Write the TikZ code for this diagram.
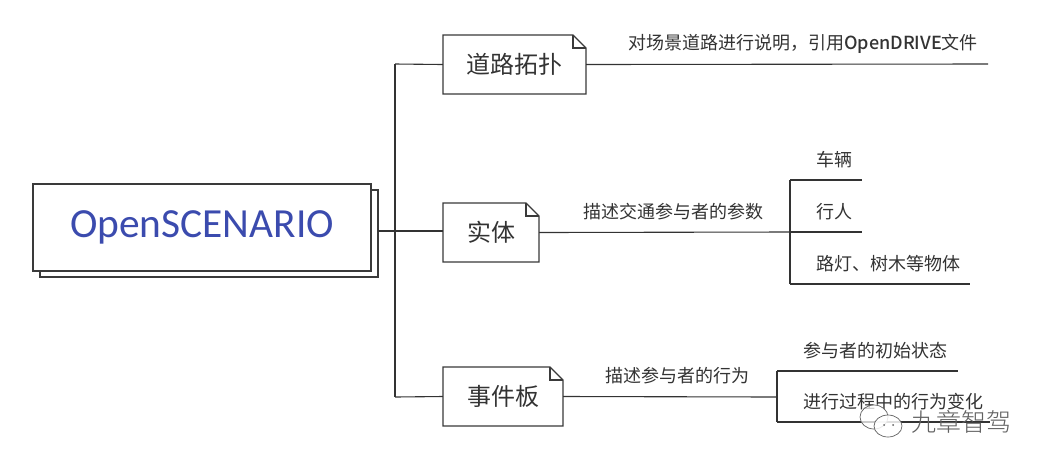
\documentclass[tikz,border=0pt]{standalone}
\usepackage{fontspec}
\setmainfont{Noto Sans CJK SC}
\newfontfamily\latinf{Carlito}
\newfontfamily\lightcjk{Noto Sans CJK SC Light}
\newfontfamily\medcjk{Noto Sans CJK SC Medium}
\definecolor{lineC}{HTML}{333333}
\definecolor{frameC}{HTML}{3A3A3A}
\definecolor{titleC}{HTML}{3B4BAE}
\definecolor{txtC}{HTML}{333333}
\definecolor{markC}{HTML}{606060}
\tikzset{
  wire/.style={draw=lineC,line width=1.1pt},
  boxline/.style={draw=frameC,line width=1.2pt,fill=white},
  lbl/.style={text=txtC,font=\fontsize{18}{20}\selectfont,inner sep=0pt},
  dlbl/.style={text=txtC,font=\fontsize{24}{28}\selectfont,inner sep=0pt},
  junction/.style={inner sep=0pt,minimum size=0pt},
}
\newcommand{\docbox}[6]{% name, x1, y1, x2, y2, text
  \draw[boxline] (#2,#3) -- (#4-13,#3) -- (#4,#3+13) -- (#4,#5) -- (#2,#5) -- cycle;
  \draw[boxline,fill=none] (#4-13,#3) -- (#4-13,#3+13) -- (#4,#3+13);
  \node[junction,minimum width=#4pt-#2pt,minimum height=#5pt-#3pt] (#1) at ({(#2+#4)/2},{(#3+#5)/2}) {};
  \node[dlbl] at (#1) {#6};
}
\begin{document}
\begin{tikzpicture}[x=1pt,y=-1pt]
\useasboundingbox (0,0) rectangle (1046,467);
\fill[white] (0,0) rectangle (1046,467);
\coordinate (topj) at (395,64);
\coordinate (botj) at (395,397);
\coordinate (e1) at (988,64);
\coordinate (tree1) at (790,232);
\coordinate (t1a) at (790,180);
\coordinate (t1b) at (790,284);
\coordinate (t1ae) at (862,180);
\coordinate (t1me) at (862,232);
\coordinate (t1be) at (970,284);
\coordinate (tree2) at (777,397);
\coordinate (t2a) at (777,371);
\coordinate (t2b) at (777,422);
\coordinate (t2ae) at (958,371);
\coordinate (t2be) at (990,422);
\draw[wire] (topj) -- (botj);
\draw[wire] (t1a) -- (t1b);
\draw[wire] (t2a) -- (t2b);
\draw[wire] (t1a) -- (t1ae);
\draw[wire] (tree1) -- (t1me);
\draw[wire] (t1b) -- (t1be);
\draw[wire] (t2a) -- (t2ae);
\draw[wire] (t2b) -- (t2be);
\draw[boxline] (40,190) rectangle (378,277);
\node[boxline,minimum width=338pt,minimum height=87pt,inner sep=0pt,
  text=titleC,font=\fontsize{41.4}{44}\selectfont\latinf] (main) at (202,227.5) {OpenSCENARIO};
\coordinate (mainr) at (378,231);
\docbox{road}{443}{35}{586}{94}{道路拓扑}
\docbox{entity}{443}{203}{539}{262}{实体}
\docbox{events}{443}{367}{563}{426}{事件板}
\draw[wire] (mainr) -- (entity.west |- mainr);
\draw[wire] (topj) -- (road.west);
\draw[wire] (botj) -- (events.west);
\draw[wire] (road.east) -- (e1);
\draw[wire] (entity.east) -- (tree1);
\draw[wire] (events.east) -- (tree2);
\node[lbl] (l1) at (803,44) {对场景道路进行说明，引用{\medcjk OpenDRIVE}文件};
\node[lbl] (l2) at (673,212) {描述交通参与者的参数};
\node[lbl] (l3) at (677.5,376) {描述参与者的行为};
\node[lbl] (l4) at (834,160) {车辆};
\node[lbl] (l5) at (834,212) {行人};
\node[lbl] (l6) at (888,264) {路灯、树木等物体};
\node[lbl] (l7) at (875,351) {参与者的初始状态};
\node[lbl] (l8) at (893,402) {进行过程中的行为变化};
% watermark
\node[text=markC,font=\fontsize{25}{28}\selectfont\lightcjk,inner sep=0pt] (wm) at (961,422) {九章智驾};
\draw[markC,line width=0.7pt,fill=white,fill opacity=0.75] (874,417) ellipse (14pt and 12pt);
\draw[markC,line width=0.7pt,fill=white,fill opacity=0.85] (888,426) ellipse (14pt and 11pt);
\fill[markC] (884,425) circle (1pt) (893,425) circle (1pt);
\end{tikzpicture}
\end{document}
